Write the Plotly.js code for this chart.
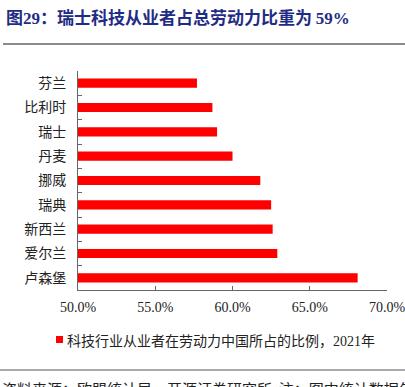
<!DOCTYPE html>
<html>
<head>
<meta charset="utf-8">
<script src="https://cdn.plot.ly/plotly-3.0.1.min.js"></script>
<style>html,body{margin:0;padding:0;background:#fff;}#chart{width:405px;height:387px;}</style>
</head>
<body>
<div id="chart"></div>
<script>
const countries = ["芬兰","比利时","瑞士","丹麦","挪威","瑞典","新西兰","爱尔兰","卢森堡"];
const shares = [57.7, 58.7, 59.0, 60.0, 61.8, 62.5, 62.6, 62.9, 68.1];
const xTickVals = [50, 55, 60, 65, 70];
const xTickText = ["50.0%", "55.0%", "60.0%", "65.0%", "70.0%"];
const seriesName = "科技行业从业者在劳动力中国所占的比例，<span style=\"font-family:'Liberation Serif'\">2021</span>年";
const titleText = "图<span style=\"font-family:'Liberation Serif'\">29</span>：瑞士科技从业者占总劳动力比重为 <span style=\"font-family:'Liberation Serif'\">59%</span>";
const footText = "资料来源：欧盟统计局、开源证券研究所  注：图中统计数据年份";

const L = 78, T = 71, W = 309, H = 219;
const xp = px => (px - L) / W;
const yp = py => (T + H - py) / H;

const cjk = "'Noto Sans CJK SC', 'Noto Sans', sans-serif";

const trace = {
  type: "bar",
  orientation: "h",
  y: countries,
  x: shares,
  width: 0.38,
  marker: {color: "#ff0000"},
  name: seriesName,
  hoverinfo: "x+y"
};

const layout = {
  width: 405, height: 387,
  margin: {l: L, r: 405 - L - W, t: T, b: 387 - T - H, pad: 0},
  paper_bgcolor: "#fff", plot_bgcolor: "#fff",
  showlegend: false,
  xaxis: {
    range: [50, 70],
    tickvals: xTickVals, ticktext: xTickText,
    ticks: "inside", ticklen: 4, tickcolor: "#666", tickwidth: 1,
    showline: true, linecolor: "#666", linewidth: 1,
    showgrid: false, zeroline: false,
    tickfont: {family: "'Liberation Serif', serif", size: 14, color: "#222"},
    ticklabelstandoff: 4,
    ticklabeloverflow: "allow",
    fixedrange: true
  },
  yaxis: {
    autorange: "reversed",
    type: "category",
    ticks: "inside", tickson: "boundaries", ticklen: 4, tickcolor: "#666", tickwidth: 1,
    showline: true, linecolor: "#666", linewidth: 1,
    showgrid: false, zeroline: false,
    tickfont: {family: cjk, size: 14, color: "#222"},
    ticklabelstandoff: 8,
    fixedrange: true
  },
  shapes: [
    {type: "line", xref: "paper", yref: "paper", x0: xp(3), x1: xp(405), y0: yp(44), y1: yp(44), line: {color: "#8c8c8c", width: 2}},
    {type: "line", xref: "paper", yref: "paper", x0: xp(0), x1: xp(405), y0: yp(370), y1: yp(370), line: {color: "#8c8c8c", width: 1.5}},
    {type: "rect", xref: "paper", yref: "paper", x0: xp(56), x1: xp(63), y0: yp(336), y1: yp(343), fillcolor: "#ff0000", line: {width: 0}}
  ],
  annotations: [
    {text: "<b>" + titleText + "</b>", xref: "paper", yref: "paper", x: xp(4), y: yp(17), xanchor: "left", yanchor: "middle", showarrow: false,
     font: {family: cjk, size: 17, color: "#1f2c85"}},
    {text: seriesName, xref: "paper", yref: "paper", x: xp(65), y: yp(340), xanchor: "left", yanchor: "middle", showarrow: false,
     font: {family: cjk, size: 14, color: "#222"}},
    {text: footText, xref: "paper", yref: "paper", x: xp(0), y: yp(376), xanchor: "left", yanchor: "top", showarrow: false,
     font: {family: cjk, size: 15, color: "#222"}}
  ]
};

Plotly.newPlot("chart", [trace], layout, {displayModeBar: false, staticPlot: true});
</script>
</body>
</html>
